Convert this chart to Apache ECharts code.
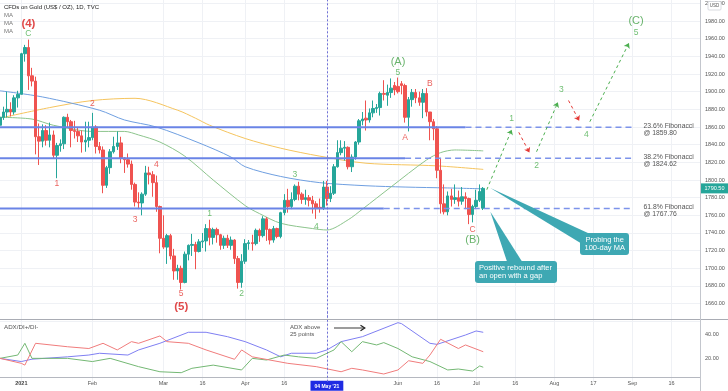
<!DOCTYPE html>
<html><head><meta charset="utf-8">
<script src="https://cdn.jsdelivr.net/npm/echarts@6/dist/echarts.min.js"></script>
<style>html,body{margin:0;padding:0;background:#fff}#c{width:728px;height:391px}</style>
</head><body><div id="c"></div>
<script>
// ---------- data ----------
const firstDay = '2020-12-23';
const dayCount = 198;
const holidays = ['2020-12-25', '2021-01-01'];

// [date, open, close, low, high]
const ohlc = [
['2020-12-23',1862,1871,1858,1875],['2020-12-24',1871,1877,1868,1883],['2020-12-28',1877,1880,1871,1900],
['2020-12-29',1880,1877,1872,1888],['2020-12-30',1877,1893,1874,1896],['2020-12-31',1893,1897,1882,1901],
['2021-01-04',1897,1943,1897,1944],['2021-01-05',1943,1950,1934,1953],['2021-01-06',1950,1918,1902,1959],
['2021-01-07',1918,1912,1906,1927],['2021-01-08',1912,1849,1829,1917],['2021-01-11',1849,1844,1817,1864],
['2021-01-12',1844,1856,1837,1863],['2021-01-13',1856,1845,1839,1862],['2021-01-14',1845,1851,1837,1865],
['2021-01-15',1851,1828,1824,1856],['2021-01-18',1828,1839,1802,1842],['2021-01-19',1839,1841,1832,1846],
['2021-01-20',1841,1871,1835,1872],['2021-01-21',1871,1866,1859,1875],['2021-01-22',1866,1856,1837,1868],
['2021-01-25',1856,1855,1847,1867],['2021-01-26',1855,1850,1843,1860],['2021-01-27',1850,1843,1831,1856],
['2021-01-28',1843,1845,1832,1866],['2021-01-29',1845,1848,1837,1866],['2021-02-01',1848,1860,1845,1876],
['2021-02-02',1860,1838,1830,1862],['2021-02-03',1838,1834,1830,1843],['2021-02-04',1834,1794,1785,1838],
['2021-02-05',1794,1814,1791,1816],['2021-02-08',1814,1832,1807,1835],['2021-02-09',1832,1838,1830,1849],
['2021-02-10',1838,1842,1834,1855],['2021-02-11',1842,1825,1819,1849],['2021-02-12',1825,1823,1808,1826],
['2021-02-15',1823,1818,1814,1830],['2021-02-16',1818,1795,1789,1822],['2021-02-17',1795,1775,1770,1797],
['2021-02-18',1775,1774,1767,1786],['2021-02-19',1774,1784,1760,1786],['2021-02-22',1784,1808,1782,1816],
['2021-02-23',1808,1806,1795,1815],['2021-02-24',1806,1797,1781,1810],['2021-02-25',1797,1770,1764,1805],
['2021-02-26',1770,1734,1717,1771],['2021-03-01',1734,1724,1722,1760],['2021-03-02',1724,1737,1705,1739],
['2021-03-03',1737,1714,1710,1739],['2021-03-04',1714,1697,1687,1722],['2021-03-05',1697,1700,1687,1704],
['2021-03-08',1700,1684,1676,1703],['2021-03-09',1684,1716,1683,1719],['2021-03-10',1716,1726,1709,1727],
['2021-03-11',1726,1727,1714,1739],['2021-03-12',1727,1719,1699,1730],['2021-03-15',1719,1730,1718,1733],
['2021-03-16',1730,1731,1723,1740],['2021-03-17',1731,1745,1719,1750],['2021-03-18',1745,1735,1726,1755],
['2021-03-19',1735,1744,1727,1746],['2021-03-22',1744,1738,1729,1746],['2021-03-23',1738,1726,1721,1739],
['2021-03-24',1726,1734,1722,1737],['2021-03-25',1734,1726,1723,1738],['2021-03-26',1726,1732,1721,1736],
['2021-03-29',1732,1711,1705,1733],['2021-03-30',1711,1684,1677,1714],['2021-03-31',1684,1708,1678,1716],
['2021-04-01',1708,1728,1705,1733],['2021-04-02',1728,1729,1721,1732],['2021-04-05',1729,1728,1720,1738],
['2021-04-06',1728,1743,1726,1745],['2021-04-07',1743,1737,1730,1745],['2021-04-08',1737,1756,1735,1759],
['2021-04-09',1756,1744,1731,1758],['2021-04-12',1744,1732,1727,1745],['2021-04-13',1732,1745,1729,1748],
['2021-04-14',1745,1736,1734,1746],['2021-04-15',1736,1763,1734,1764],['2021-04-16',1763,1777,1760,1784],
['2021-04-19',1777,1770,1763,1790],['2021-04-20',1770,1778,1767,1786],['2021-04-21',1778,1793,1776,1795],
['2021-04-22',1793,1784,1777,1798],['2021-04-23',1784,1778,1773,1786],['2021-04-26',1778,1780,1772,1789],
['2021-04-27',1780,1777,1770,1783],['2021-04-28',1777,1773,1762,1782],['2021-04-29',1773,1768,1756,1776],
['2021-04-30',1769,1768,1763,1779],['2021-05-03',1768,1792,1766,1799],['2021-05-04',1792,1779,1771,1799],
['2021-05-05',1779,1785,1775,1793],['2021-05-06',1785,1815,1783,1818],['2021-05-07',1815,1831,1814,1845],
['2021-05-10',1831,1836,1828,1845],['2021-05-11',1836,1837,1822,1844],['2021-05-12',1837,1815,1812,1838],
['2021-05-13',1815,1826,1809,1829],['2021-05-14',1826,1843,1823,1844],['2021-05-17',1843,1867,1840,1869],
['2021-05-18',1867,1869,1862,1877],['2021-05-19',1870,1868,1856,1890],['2021-05-20',1868,1876,1865,1881],
['2021-05-21',1876,1881,1871,1890],['2021-05-24',1881,1882,1876,1886],['2021-05-25',1882,1898,1873,1900],
['2021-05-26',1898,1897,1890,1913],['2021-05-27',1896,1899,1884,1908],['2021-05-28',1899,1904,1893,1915],
['2021-05-31',1907,1902,1896,1911],['2021-06-01',1906,1900,1898,1916],['2021-06-02',1909,1907,1897,1912],
['2021-06-03',1907,1871,1865,1909],['2021-06-04',1871,1891,1855,1894],['2021-06-07',1891,1899,1883,1903],
['2021-06-08',1899,1893,1887,1903],['2021-06-09',1893,1888,1884,1900],['2021-06-10',1888,1898,1870,1903],
['2021-06-11',1898,1877,1872,1904],['2021-06-14',1877,1866,1845,1877],['2021-06-15',1866,1858,1845,1869],
['2021-06-16',1858,1811,1802,1861],['2021-06-17',1811,1773,1762,1825],['2021-06-18',1773,1764,1761,1795],
['2021-06-21',1764,1782,1760,1787],['2021-06-22',1782,1778,1770,1790],['2021-06-23',1778,1780,1773,1795],
['2021-06-24',1780,1776,1770,1788],['2021-06-25',1776,1781,1772,1792],['2021-06-28',1781,1779,1767,1786],
['2021-06-29',1779,1761,1750,1780],['2021-06-30',1761,1770,1752,1772],['2021-07-01',1770,1777,1767,1789],
['2021-07-02',1777,1787,1775,1795],['2021-07-05',1768,1790.5,1766,1792]
];
const lastPrice = 1790.50;

// moving averages (at sample dates)
const ma100 = [['2020-12-23',1901],['2021-01-12',1894],['2021-02-03',1879],['2021-02-12',1868],['2021-02-25',1860],
 ['2021-03-15',1842],['2021-03-26',1826],['2021-04-01',1815],['2021-04-15',1804],['2021-04-30',1797],['2021-05-19',1793.5],
 ['2021-06-03',1792],['2021-06-21',1791],['2021-07-05',1790]];
const ma200 = [['2020-12-23',1870],['2021-01-14',1882],['2021-02-01',1890],['2021-02-17',1892.5],['2021-03-05',1879],
 ['2021-03-12',1870],['2021-03-18',1862],['2021-04-01',1847],['2021-04-15',1836],['2021-04-30',1827],['2021-05-19',1819],
 ['2021-06-16',1816],['2021-07-05',1812]];
const ma50 = [['2020-12-23',1871],['2021-01-07',1869],['2021-01-15',1862],['2021-02-01',1855],['2021-02-12',1855],
 ['2021-02-18',1851],['2021-02-26',1843],['2021-03-09',1827],['2021-03-19',1800],['2021-04-01',1771],['2021-04-07',1762],
 ['2021-04-15',1751],['2021-04-28',1745],['2021-05-04',1743.4],['2021-05-12',1755],['2021-05-18',1767],['2021-05-28',1792],
 ['2021-06-11',1822.6],['2021-06-17',1831],['2021-06-23',1834],['2021-07-05',1833]];

// ADX / DI+ / DI-
const adx = [['2020-12-23',19.7],['2021-01-04',17],['2021-01-07',19],['2021-01-21',21],['2021-01-29',22.5],['2021-02-03',24],
 ['2021-02-15',22.5],['2021-02-18',26.8],['2021-02-26',32.4],['2021-03-10',41.7],['2021-03-17',41.7],['2021-03-25',38],
 ['2021-04-01',33.8],['2021-04-09',26.8],['2021-04-15',21],['2021-04-20',24],['2021-04-29',24],['2021-05-04',26.8],
 ['2021-05-10',33.8],['2021-05-18',38],['2021-06-01',49.8],['2021-06-02',49],['2021-06-14',32.4],['2021-06-16',31.5],
 ['2021-06-28',39.4],['2021-07-01',42.8],['2021-07-05',41.7]];
const diPlus = [['2020-12-23',19.7],['2020-12-31',22.5],['2021-01-05',32.4],['2021-01-07',19.7],['2021-01-21',19.7],
 ['2021-02-01',17],['2021-02-08',19.7],['2021-02-18',12.7],['2021-02-26',8.4],['2021-03-08',7.6],['2021-03-11',11.3],
 ['2021-03-19',14],['2021-03-31',9.9],['2021-04-05',19.7],['2021-04-09',18.3],['2021-04-16',22.5],['2021-04-22',21],
 ['2021-04-29',19.7],['2021-05-06',26.8],['2021-05-10',33.8],['2021-05-13',25.3],['2021-05-18',33.8],['2021-05-24',31],
 ['2021-05-26',33],['2021-06-01',28],['2021-06-07',21],['2021-06-14',17],['2021-06-21',9.9],['2021-06-24',10.7],
 ['2021-06-30',9],['2021-07-02',13.3],['2021-07-05',12.2]];
const diMinus = [['2020-12-23',19.7],['2021-01-04',15.5],['2021-01-05',14],['2021-01-08',32.4],['2021-01-21',29.5],
 ['2021-01-29',28],['2021-02-04',32.4],['2021-02-10',26.8],['2021-02-16',33.8],['2021-02-18',32.4],['2021-02-26',38.6],
 ['2021-03-02',33.8],['2021-03-10',32.4],['2021-03-17',26.8],['2021-03-29',18.9],['2021-03-31',26.8],['2021-04-05',21],
 ['2021-04-19',15.5],['2021-04-29',12.7],['2021-05-10',8.4],['2021-05-13',11.3],['2021-05-18',9.9],['2021-05-26',6.5],
 ['2021-06-01',9.9],['2021-06-04',17.7],['2021-06-10',15.5],['2021-06-14',22.5],['2021-06-17',35.8],['2021-06-24',28],
 ['2021-06-28',31],['2021-07-05',25.3]];

// Fibonacci levels
const fibLevels = [1859.80, 1824.62, 1767.76];
const fibNames = ['23.6%', '38.2%', '61.8%'];
const fibSolidEnd = ['2021-06-28', '2021-06-03', '2021-05-26'];
const fibDashEnd = '2021-09-01';

// Elliott wave labels [date, price, text]
const redBig = [['2021-01-06',1976.6,'(4)'],['2021-03-08',1656.2,'(5)']];
const redSmall = [['2021-01-18',1795.5,'1'],['2021-02-01',1886.8,'2'],['2021-02-17',1755.5,'3'],['2021-02-25',1817,'4'],
 ['2021-03-08',1670.9,'5'],['2021-06-03',1848.3,'A'],['2021-06-14',1908.7,'B'],['2021-06-30',1744.2,'C']];
const greenBig = [['2021-06-01',1933.9,'(A)'],['2021-06-30',1732.1,'(B)'],['2021-09-02',1980.3,'(C)']];
const greenSmall = [['2021-01-06',1965.8,'C'],['2021-03-18',1762.3,'1'],['2021-03-31',1670.9,'2'],['2021-04-21',1805.7,'3'],
 ['2021-04-29',1747.1,'4'],['2021-06-01',1921.5,'5'],['2021-07-15',1869.8,'1'],['2021-07-26',1815.8,'2'],
 ['2021-08-04',1901.9,'3'],['2021-08-13',1851.7,'4'],['2021-09-02',1967.2,'5']];

// projected path (segments: from, to, colour)
const projFrom = [['2021-07-06',1789],['2021-07-19',1854],['2021-07-26',1832],['2021-08-06',1890],['2021-08-16',1866]];
const projTo   = [['2021-07-15',1857],['2021-07-22',1831],['2021-08-03',1888],['2021-08-11',1867],['2021-08-31',1955]];
const projUp   = [true, false, true, false, true];

// x tick labels
const tickDates = ['2021-01-04','2021-02-01','2021-03-01','2021-03-16','2021-04-01','2021-04-16','2021-05-04',
 '2021-06-01','2021-06-16','2021-07-01','2021-07-16','2021-08-02','2021-08-17','2021-09-01','2021-09-16'];
const tickTexts = ['2021','Feb','Mar','16','Apr','16',"04 May '21",'Jun','16','Jul','16','Aug','17','Sep','16'];
const markedDay = '2021-05-04';

// callouts
const calloutGap = {anchor:['2021-07-07',1764], lines:['Positive rebound after','an open with a gap']};
const calloutMA  = {anchor:['2021-07-07',1791], lines:['Probing the','100-day MA']};

// ---------- build ----------
const categories = [];
(function(){
  const p = firstDay.split('-').map(Number);
  const d = new Date(Date.UTC(p[0], p[1]-1, p[2]));
  while (categories.length < dayCount) {
    const s = d.toISOString().slice(0,10), w = d.getUTCDay();
    if (w !== 0 && w !== 6 && holidays.indexOf(s) < 0) categories.push(s);
    d.setUTCDate(d.getUTCDate()+1);
  }
})();

const F = '"Liberation Sans", Arial, sans-serif';
const UP = '#26a69a', DOWN = '#ef5350', GRN = '#4caf50', RED = '#e53935', GRID = '#eff1f5';
const isTick = (i, v) => tickDates.indexOf(v) >= 0;

function labelSeries(rows, color, size, weight) {
  return {
    type:'scatter', xAxisIndex:0, yAxisIndex:0, silent:true, z:12,
    symbolSize:0.1, itemStyle:{color:'rgba(0,0,0,0)'},
    data: rows.map(r => ({value:[r[0], r[1]], label:{formatter:r[2]}})),
    label:{show:true, position:'inside', color:color, fontSize:size, fontWeight:weight, fontFamily:F}
  };
}

const series = [];
[[ma200,'#f5c45e'],[ma100,'#6f9fe0'],[ma50,'#8cc48c']].forEach(m => series.push({
  type:'line', xAxisIndex:0, yAxisIndex:0, data:m[0], smooth:0.3, symbol:'none', silent:true, z:2,
  lineStyle:{color:m[1], width:1}
}));

const projLines = projFrom.map((f, i) => [
  {coord:f, symbol:'none', lineStyle:{color: projUp[i] ? GRN : RED, type:[3,3], width:1}, label:{show:false}},
  {coord:projTo[i], symbol:'arrow', symbolSize:5}
]);

series.push({
  type:'candlestick', xAxisIndex:0, yAxisIndex:0, data:ohlc, encode:{x:0, y:[1,2,3,4]},
  barWidth:3, z:3, silent:true,
  itemStyle:{color:UP, color0:DOWN, borderColor:UP, borderColor0:DOWN, borderWidth:1},
  markLine:{
    silent:true, symbol:['none','none'], animation:false,
    data:[
      {xAxis:markedDay, lineStyle:{color:'#6f6fd8', type:[2,2], width:1}, label:{show:false}}
    ].concat(projLines)
  }
});

fibLevels.forEach((lv, i) => {
  series.push({type:'line', xAxisIndex:0, yAxisIndex:0, silent:true, z:4, symbol:'none',
    data:[[categories[0], lv],[fibSolidEnd[i], lv]], lineStyle:{color:'#6a84e6', width:2}});
  series.push({type:'line', xAxisIndex:0, yAxisIndex:0, silent:true, z:4, symbol:'none',
    data:[[fibSolidEnd[i], lv],[fibDashEnd, lv]], lineStyle:{color:'#7d93ea', width:1.5, type:[6,4]},
    endLabel:{show:true, formatter: fibNames[i] + ' Fibonacci\n@ ' + lv.toFixed(2), color:'#555',
      fontSize:6.8, lineHeight:7, distance:11, offset:[0,2.5], fontFamily:F}});
});

series.push(labelSeries(redBig, '#d81b1b', 11.5, 'bold'));
series.push(labelSeries(redSmall, RED, 8.5, 'normal'));
series.push(labelSeries(greenBig, '#43a047', 11, 'normal'));
series.push(labelSeries(greenSmall, GRN, 8.5, 'normal'));

[[adx,'#7f7ff2'],[diPlus,'#74b874'],[diMinus,'#f07c7c']].forEach((m, k) => series.push({
  type:'line', xAxisIndex:1, yAxisIndex:1, data:m[0], symbol:'none', silent:true, z:3,
  lineStyle:{color:m[1], width:1},
  markLine: k === 0 ? {silent:true, symbol:['none','none'], animation:false,
    data:[{xAxis:markedDay, lineStyle:{color:'#6f6fd8', type:[2,2], width:1}, label:{show:false}}]} : undefined
}));

const option = {
  animation:false,
  backgroundColor:'#ffffff',
  textStyle:{fontFamily:F},
  grid:[
    {left:0, width:700, top:-14.3, height:335.6, containLabel:false, outerBoundsMode:'none'},
    {left:0, width:700, top:310.6, height:71.1, containLabel:false, outerBoundsMode:'none'}
  ],
  xAxis:[
    {type:'category', gridIndex:0, data:categories, boundaryGap:false,
     axisLine:{show:false}, axisTick:{show:false}, axisLabel:{show:false},
     splitLine:{show:true, interval:isTick, lineStyle:{color:GRID, width:1}}},
    {type:'category', gridIndex:1, data:categories, boundaryGap:false, offset:-4,
     axisLine:{show:true, lineStyle:{color:'#b5b8c0', width:1}}, axisTick:{show:false},
     splitLine:{show:true, interval:isTick, lineStyle:{color:GRID, width:1}},
     axisLabel:{show:true, interval:isTick, margin:3, fontSize:5.5, color:'#555', fontFamily:F,
       formatter:(v) => { const i = tickDates.indexOf(v); if (i < 0) return '';
         if (v === markedDay) return '{hl|' + tickTexts[i] + '}';
         if (tickTexts[i] === '2021') return '{b|2021}';
         return tickTexts[i]; },
       rich:{hl:{backgroundColor:'#1f2be3', color:'#fff', fontSize:5, fontWeight:'bold', padding:[3,4,2,4], fontFamily:F},
             b:{fontWeight:'bold', fontSize:5.5, color:'#444', fontFamily:F}}}}
  ],
  yAxis:[
    {type:'value', gridIndex:0, position:'right', min:1640, max:2020, interval:20,
     axisLine:{show:false}, axisTick:{show:false},
     splitLine:{show:true, lineStyle:{color:GRID, width:1}},
     axisLabel:{margin:5, fontSize:5.5, color:'#555', fontFamily:F,
       formatter:(v) => (v < 1650 || v > 2010) ? '' : v.toFixed(2)}},
    {type:'value', gridIndex:1, position:'right', min:0, max:60, interval:20,
     axisLine:{show:false}, axisTick:{show:false}, splitLine:{show:false},
     axisLabel:{margin:5, fontSize:5.5, color:'#555', fontFamily:F,
       formatter:(v) => (v === 20 || v === 40) ? v.toFixed(2) : ''}}
  ],
  series: series
};

const chart = echarts.init(document.getElementById('c'));
chart.setOption(option);

// ---------- annotations ----------
const px = (a) => chart.convertToPixel({xAxisIndex:0, yAxisIndex:0}, a);
const tGap = px(calloutGap.anchor), tMA = px(calloutMA.anchor);
const yLast = px([categories[0], lastPrice])[1];
const CALL = '#3ea8b3';
const txt = (x, y, s, size, fill, extra, z) => ({type:'text', x:x, y:y, z:z || 70,
  style:Object.assign({text:s, fontSize:size, fontFamily:F, fill:fill, verticalAlign:'middle'}, extra || {})});

const graphics = [
  txt(4, 7.3, 'CFDs on Gold (US$ / OZ), 1D, TVC', 6, '#222'),
  txt(4, 15.5, 'MA', 6, '#777'), txt(4, 23.6, 'MA', 6, '#777'), txt(4, 31.7, 'MA', 6, '#777'),
  txt(4, 327.7, 'ADX/DI+/DI-', 6.2, '#555'),
  txt(290, 327.7, 'ADX above', 6, '#555'), txt(290, 334.5, '25 points', 6, '#555'),
  {type:'line', z:50, shape:{x1:334, y1:328, x2:364, y2:328}, style:{stroke:'#666', lineWidth:1.3}},
  {type:'polyline', z:50, shape:{points:[[360.5,325.3],[364.8,328],[360.5,330.7]]}, style:{stroke:'#222', lineWidth:1.2, fill:null}},
  {type:'line', z:60, shape:{x1:0, y1:319.5, x2:728, y2:319.5}, style:{stroke:'#a9acb4', lineWidth:1}},
  {type:'line', z:60, shape:{x1:700.5, y1:0, x2:700.5, y2:391}, style:{stroke:'#c3c6cd', lineWidth:1}},
  {type:'rect', z:61, shape:{x:708, y:1.5, width:13, height:8.5, r:1}, style:{fill:'#fff', stroke:'#cfd2d8', lineWidth:0.8}},
  txt(714.5, 5.9, 'USD', 4.5, '#555', {align:'center'}),
  // last price tag
  {type:'rect', z:61, shape:{x:701, y:yLast - 5, width:27, height:10}, style:{fill:'#26a69a'}},
  txt(714.5, yLast, lastPrice.toFixed(2), 5.5, '#fff', {align:'center'}),
  // callout: gap
  {type:'polygon', z:55, shape:{points:[tGap, [507,261.5], [522,261.5]]}, style:{fill:CALL}},
  {type:'rect', z:55, shape:{x:475, y:261, width:82, height:22, r:3}, style:{fill:CALL}},
  txt(479, 267.5, calloutGap.lines[0], 7.5, '#fff'), txt(479, 276, calloutGap.lines[1], 7.5, '#fff'),
  // callout: MA
  {type:'polygon', z:55, shape:{points:[tMA, [589,233.5], [580.5,243]]}, style:{fill:CALL}},
  {type:'rect', z:55, shape:{x:580, y:233, width:49, height:22, r:3}, style:{fill:CALL}},
  txt(604.7, 240, calloutMA.lines[0], 7.5, '#fff', {align:'center'}),
  txt(604.7, 248.3, calloutMA.lines[1], 7.5, '#fff', {align:'center'})
];
chart.setOption({graphic: graphics});
</script>
</body></html>
